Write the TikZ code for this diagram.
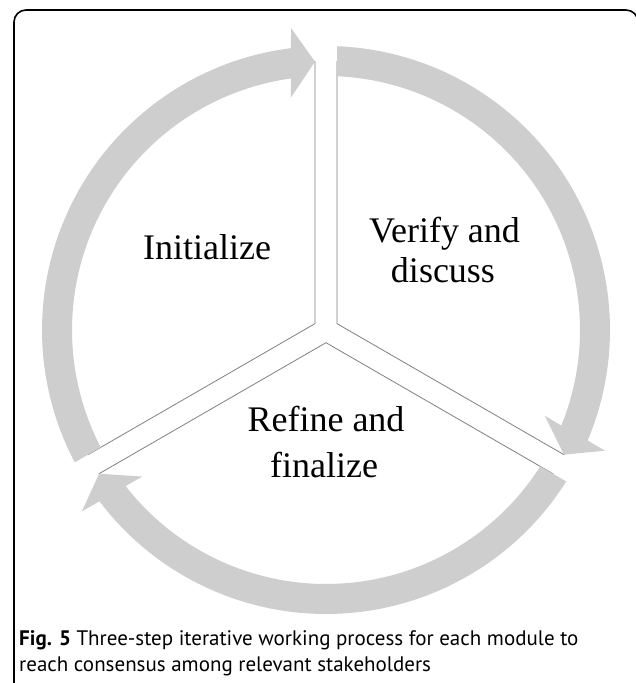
\documentclass[tikz,border=0pt]{standalone}
\usepackage{fontspec}
\setmainfont{Liberation Serif}
\newfontfamily\capfont{PT Sans}
\definecolor{arrowgray}{RGB}{206,206,206}
\definecolor{sepgray}{RGB}{128,128,128}
\begin{document}
\begin{tikzpicture}[x=1pt,y=1pt,
  sector/.style={fill=white,draw=sepgray,line width=0.8pt},
  cyclearrow/.style={fill=arrowgray},
  steplabel/.style={font=\fontsize{36}{40}\selectfont,inner sep=0pt,anchor=base},
  captext/.style={font=\capfont\fontsize{21}{26}\selectfont,inner sep=0pt,anchor=base west}]
\useasboundingbox (0,0) rectangle (635,683);
\coordinate (C) at (326,353);
% frame (right edge lies just outside the page)
\draw[line width=1.6pt] (14,0) -- (14,661) arc[start angle=180,end angle=90,radius=12] -- (626,673) arc[start angle=90,end angle=0,radius=12] -- (638,0);
% sectors
\begin{scope}[shift={(C)}]
  \draw[sector] (150:12.7) -- ++(90:262) arc[start angle=90,end angle=210,radius=262] -- cycle;
  \draw[sector] (30:12.7) -- ++(90:262) arc[start angle=90,end angle=-30,radius=262] -- cycle;
  \draw[sector] (270:12.7) -- ++(-30:262) arc[start angle=-30,end angle=-150,radius=262] -- cycle;
  \foreach \r in {0,-120,-240} {
    \begin{scope}[rotate=\r]
      \fill[cyclearrow] (207.78:284) arc[start angle=207.78,end angle=97.1,radius=284]
        -- (96.6:304) -- (92.35:268.6) -- (98.6:235) -- (97.9:254)
        arc[start angle=97.9,end angle=207.52,radius=254] -- cycle;
    \end{scope}
  }
\end{scope}
% labels
\node[steplabel] (init) at (207,423) {Initialize};
\node[steplabel] (verify1) at (444.5,440) {Verify and};
\node[steplabel] (verify2) at (443,400) {discuss};
\node[steplabel] (refine1) at (326,251) {Refine and};
\node[steplabel] (refine2) at (324,205) {finalize};
% caption
\node[captext] (cap1) at (19,37) {\textbf{Fig. 5} Three-step iterative working process for each module to};
\node[captext] (cap2) at (19,11) {reach consensus among relevant stakeholders};
\end{tikzpicture}
\end{document}
